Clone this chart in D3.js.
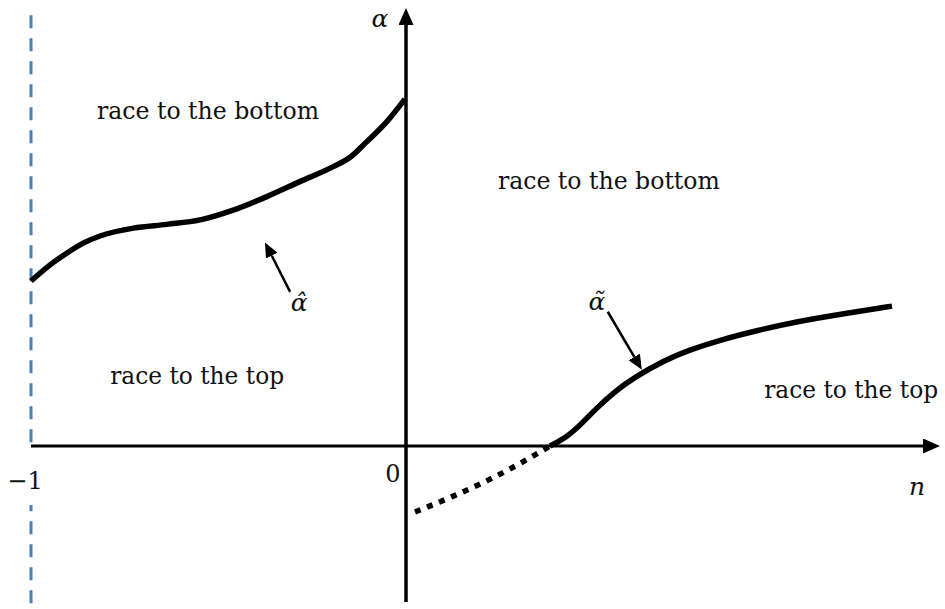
<!DOCTYPE html>
<html>
<head>
<meta charset="utf-8">
<script src="https://cdn.jsdelivr.net/npm/d3@7"></script>
<style>
	body { margin: 0; background: #fff; }
	svg { display: block; }
	.region { font-family: "DejaVu Serif", serif; font-size: 24px; fill: #111; }
	.math { font-family: "DejaVu Serif", serif; font-style: italic; font-size: 25px; fill: #111; }
	.tick { font-family: "DejaVu Serif", serif; font-size: 24px; fill: #111; }
</style>
</head>
<body>
<svg id="chart" width="945" height="609"></svg>
<script>
// alpha-hat curve (left of the vertical axis), n in [-1, 0]
var hatN = [-1.000, -0.949, -0.905, -0.861, -0.816, -0.727, -0.638, -0.549, -0.461, -0.371, -0.283, -0.194, -0.149, -0.105, -0.051, -0.003];
var hatAlpha = [0.440, 0.483, 0.514, 0.541, 0.560, 0.581, 0.591, 0.603, 0.629, 0.665, 0.705, 0.745, 0.770, 0.811, 0.865, 0.925];

// alpha-tilde curve, solid part (n > crossing point)
var tildeN = [0.384, 0.431, 0.470, 0.508, 0.557, 0.605, 0.691, 0.749, 0.845, 0.941, 1.037, 1.181, 1.296];
var tildeAlpha = [0.000, 0.025, 0.061, 0.101, 0.145, 0.181, 0.229, 0.254, 0.285, 0.309, 0.331, 0.355, 0.373];

// alpha-tilde curve, dotted part below zero
var tildeNegN = [0.024, 0.123, 0.219, 0.335, 0.384];
var tildeNegAlpha = [-0.176, -0.135, -0.091, -0.029, 0.000];

var tickValues = [-1, 0];
var tickLabels = ["\u22121", "0"];
var regionLabels = ["race to the bottom", "race to the bottom", "race to the top", "race to the top"];

(function() {
	"use strict";

	var width = 945,
		height = 609,
		svg = d3.select("#chart"),
		x = d3.scaleLinear().domain([-1, 0]).range([31, 406]),
		y = d3.scaleLinear().domain([0, 1]).range([446, 71]),
		nMax = 1.424,
		alphaMin = -0.416,
		alphaMax = 1.168,
		line = d3.line()
			.x(function(d) { return x(d[0]); })
			.y(function(d) { return y(d[1]); })
			.curve(d3.curveMonotoneX),
		smoothLine = d3.line()
			.x(function(d) { return x(d[0]); })
			.y(function(d) { return y(d[1]); })
			.curve(d3.curveBasis);

	var defs = svg.append("defs");

	defs.append("marker")
		.attr("id", "axisHead")
		.attr("viewBox", "0 0 17 15")
		.attr("refX", 0)
		.attr("refY", 7.5)
		.attr("markerWidth", 17)
		.attr("markerHeight", 15)
		.attr("markerUnits", "userSpaceOnUse")
		.attr("orient", "auto")
		.append("path")
		.attr("d", "M0,0L17,7.5L0,15Z")
		.attr("fill", "#000");

	defs.append("marker")
		.attr("id", "noteHead")
		.attr("viewBox", "0 0 15 13")
		.attr("refX", 0)
		.attr("refY", 6.5)
		.attr("markerWidth", 15)
		.attr("markerHeight", 13)
		.attr("markerUnits", "userSpaceOnUse")
		.attr("orient", "auto")
		.append("path")
		.attr("d", "M0,0L15,6.5L0,13Z")
		.attr("fill", "#000");

	svg.append("rect")
		.attr("width", width)
		.attr("height", height)
		.attr("fill", "#fff");

	// n = -1 boundary
	svg.append("line")
		.attr("x1", x(-1))
		.attr("x2", x(-1))
		.attr("y1", y(1.149))
		.attr("y2", height)
		.attr("stroke", "#4a7ebb")
		.attr("stroke-width", 3)
		.attr("stroke-dasharray", "13,10");

	// the -1 label sits in a white box that hides the dashes behind it
	svg.append("rect")
		.attr("x", x(-1) - 26)
		.attr("y", y(0) + 3)
		.attr("width", 52)
		.attr("height", 56)
		.attr("fill", "#fff");

	// axes, shortened so the arrow heads end on the tips
	svg.append("line")
		.attr("x1", x(-1))
		.attr("x2", x(nMax) - 17)
		.attr("y1", y(0))
		.attr("y2", y(0))
		.attr("stroke", "#000")
		.attr("stroke-width", 3)
		.attr("marker-end", "url(#axisHead)");

	svg.append("line")
		.attr("x1", x(0))
		.attr("x2", x(0))
		.attr("y1", y(alphaMin))
		.attr("y2", y(alphaMax) + 17)
		.attr("stroke", "#000")
		.attr("stroke-width", 3.5)
		.attr("marker-end", "url(#axisHead)");

	// curves
	svg.append("path")
		.datum(d3.zip(hatN, hatAlpha))
		.attr("d", line)
		.attr("fill", "none")
		.attr("stroke", "#000")
		.attr("stroke-width", 5.5)
		.attr("stroke-linejoin", "round");

	svg.append("path")
		.datum(d3.zip(tildeN, tildeAlpha))
		.attr("d", smoothLine)
		.attr("fill", "none")
		.attr("stroke", "#000")
		.attr("stroke-width", 5.5)
		.attr("stroke-linejoin", "round");

	svg.append("path")
		.datum(d3.zip(tildeNegN, tildeNegAlpha))
		.attr("d", line)
		.attr("fill", "none")
		.attr("stroke", "#000")
		.attr("stroke-width", 5.5)
		.attr("stroke-dasharray", "6,7");

	// pointer arrows
	var notes = [
		{ from: [-0.309, 0.411], to: [-0.376, 0.543] },
		{ from: [0.538, 0.358], to: [0.629, 0.203] }
	];

	svg.selectAll("line.note")
		.data(notes)
		.enter().append("line")
			.classed("note", true)
			.attr("x1", function(d) { return x(d.from[0]); })
			.attr("y1", function(d) { return y(d.from[1]); })
			.attr("x2", function(d) {
				var dx = x(d.to[0]) - x(d.from[0]), dy = y(d.to[1]) - y(d.from[1]),
					len = Math.sqrt(dx * dx + dy * dy);
				return x(d.to[0]) - 15 * dx / len;
			})
			.attr("y2", function(d) {
				var dx = x(d.to[0]) - x(d.from[0]), dy = y(d.to[1]) - y(d.from[1]),
					len = Math.sqrt(dx * dx + dy * dy);
				return y(d.to[1]) - 15 * dy / len;
			})
			.attr("stroke", "#000")
			.attr("stroke-width", 2.5)
			.attr("marker-end", "url(#noteHead)");

	// region labels
	var regionPos = [[-0.824, 0.872], [0.245, 0.685], [-0.789, 0.165], [0.955, 0.128]],
		regionLen = [222, 222, 174, 174];

	svg.selectAll("text.region")
		.data(regionLabels)
		.enter().append("text")
			.classed("region", true)
			.attr("x", function(d, i) { return x(regionPos[i][0]); })
			.attr("y", function(d, i) { return y(regionPos[i][1]); })
			.attr("textLength", function(d, i) { return regionLen[i]; })
			.attr("lengthAdjust", "spacingAndGlyphs")
			.text(function(d) { return d; });

	// tick labels
	var tickDx = [-6, -13],
		tickDy = [43, 36];
	svg.selectAll("text.tick")
		.data(tickLabels)
		.enter().append("text")
			.classed("tick", true)
			.attr("x", function(d, i) { return x(tickValues[i]) + tickDx[i]; })
			.attr("y", function(d, i) { return y(0) + tickDy[i]; })
			.attr("text-anchor", "middle")
			.text(function(d) { return d; });

	// math labels
	var mathLabels = [
		{ text: "\u03b1", n: 0, a: alphaMax, dx: -26, dy: 19 },
		{ text: "n", n: nMax, a: 0, dx: -23, dy: 49 },
		{ text: "\u03b1\u0302", n: -0.285, a: 0.381, dx: 0, dy: 8 },
		{ text: "\u03b1\u0303", n: 0.509, a: 0.384, dx: 0, dy: 8 }
	];

	svg.selectAll("text.math")
		.data(mathLabels)
		.enter().append("text")
			.classed("math", true)
			.attr("x", function(d) { return x(d.n) + d.dx; })
			.attr("y", function(d) { return y(d.a) + d.dy; })
			.attr("text-anchor", "middle")
			.text(function(d) { return d.text; });
})();
</script>
</body>
</html>
